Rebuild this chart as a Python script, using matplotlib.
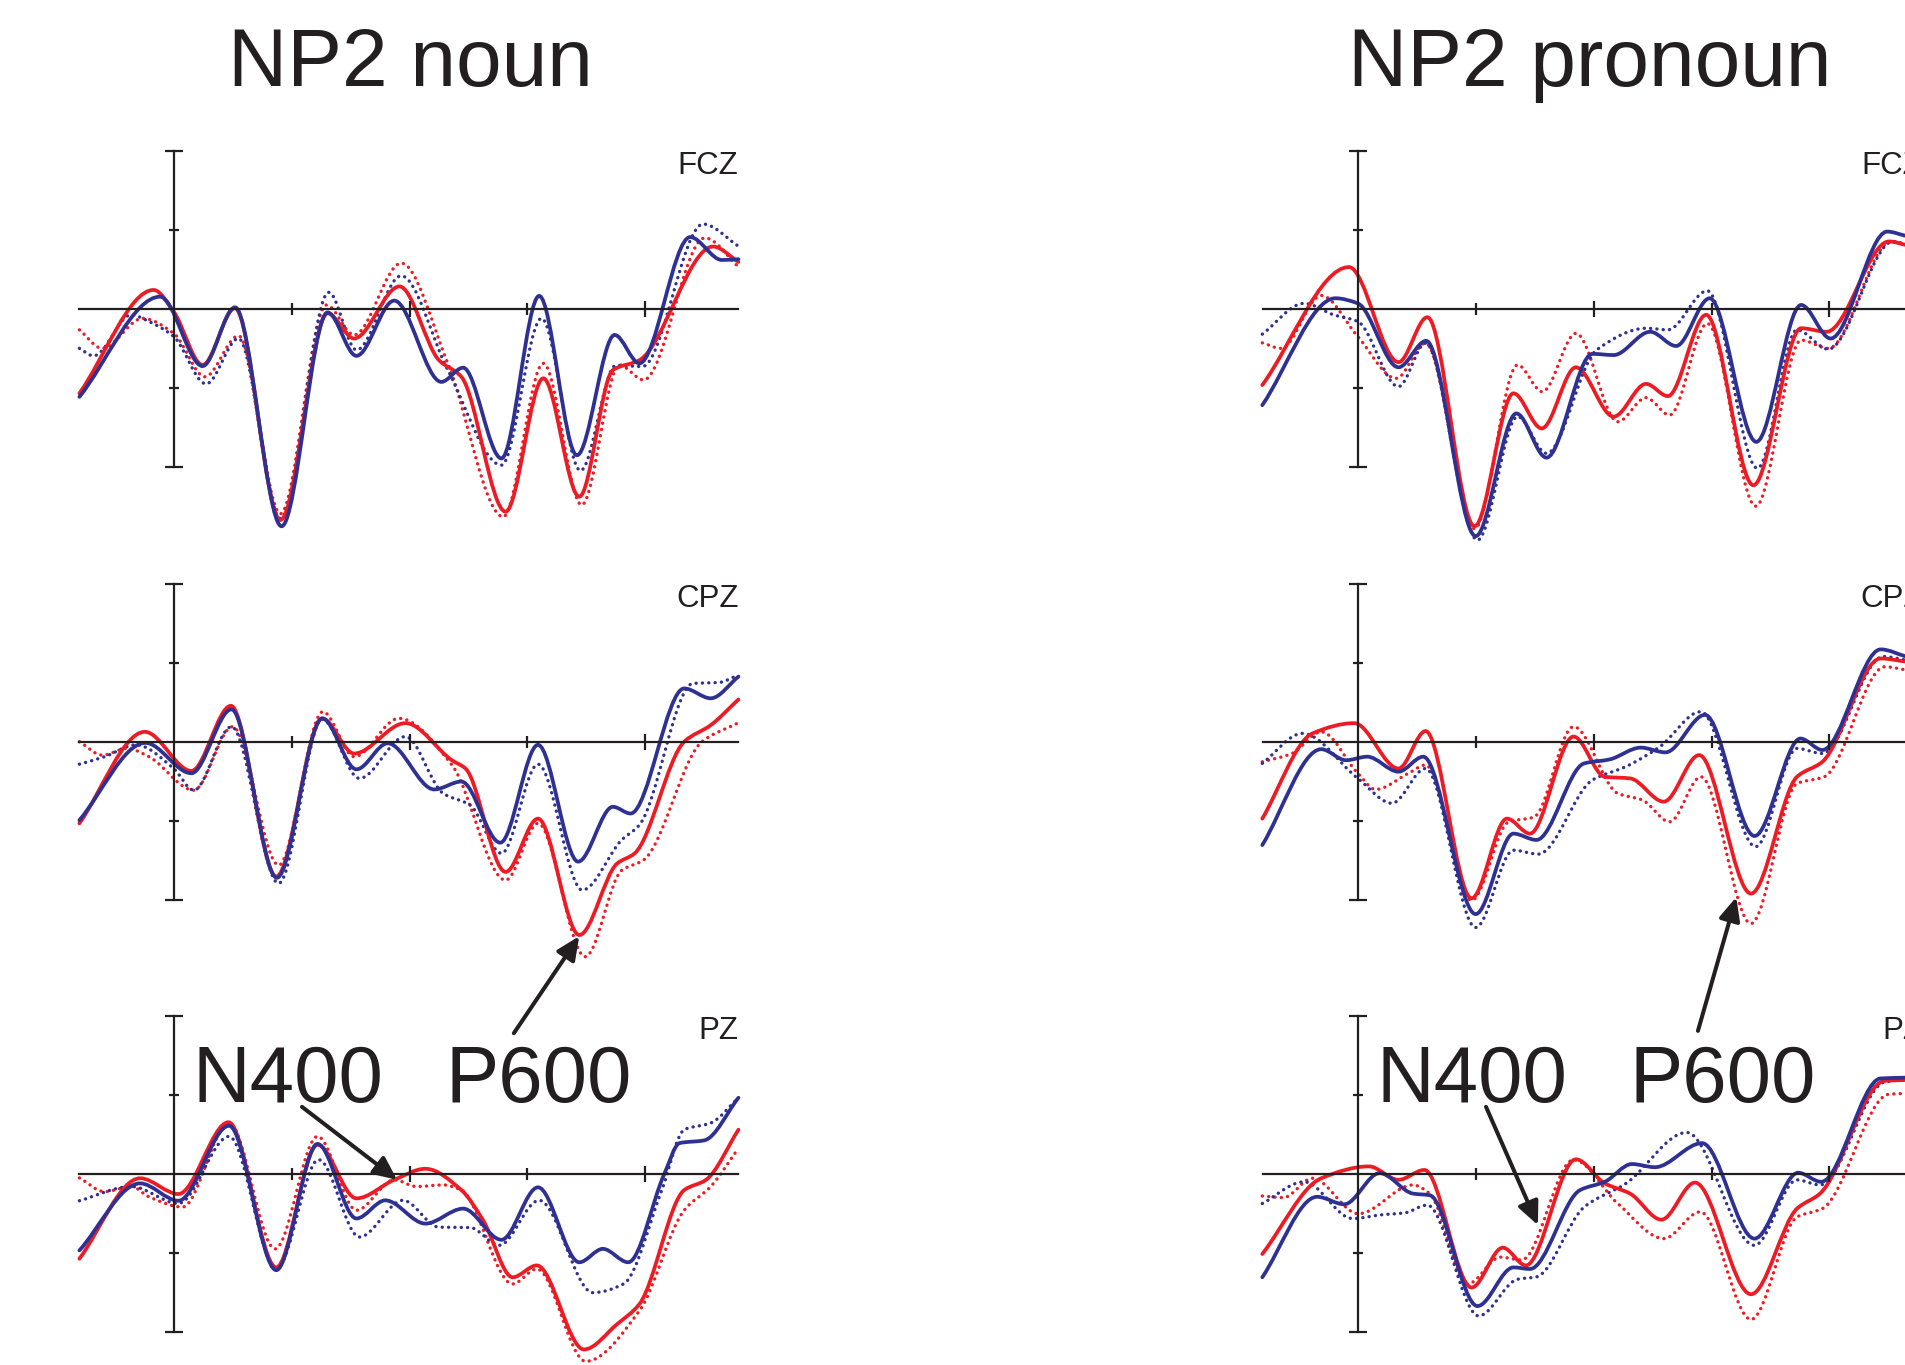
import numpy as np
import matplotlib
matplotlib.use("Agg")
import matplotlib.pyplot as plt
from matplotlib.path import Path
from matplotlib.patches import PathPatch

RED = "#ed1c24"
BLUE = "#2e3192"
INK = "#231f20"

# time in ms, amplitude in microvolts
EPOCH = (-160, 958)
titles = ["NP2 noun", "NP2 pronoun"]
channels = ["FCZ", "CPZ", "PZ"]

# ---- FCZ, noun ----
fcz_noun_red = [(-160, -2.13), (-34, 0.49), (0, -0.06), (49, -1.41), (104, 0.03), (181, -5.34),
                (261, -0.10), (306, -0.74), (383, 0.58), (450, -1.29), (488, -1.71), (563, -5.13),
                (627, -1.75), (688, -4.75), (745, -1.54), (790, -1.29), (915, 1.59), (958, 1.20)]
fcz_noun_blue = [(-160, -2.22), (-23, 0.32), (49, -1.44), (104, 0.05), (183, -5.50), (261, -0.08),
                 (310, -1.18), (374, 0.22), (454, -1.84), (491, -1.48), (556, -3.78), (620, 0.34),
                 (684, -3.70), (748, -0.65), (790, -1.37), (876, 1.83), (930, 1.25), (958, 1.27)]
fcz_noun_red_dot = [(-160, -0.52), (-121, -0.99), (-53, -0.23), (0, -0.61), (53, -1.71), (110, -0.67),
                    (181, -5.18), (259, 0.11), (306, -0.65), (386, 1.17), (465, -1.37), (559, -5.26),
                    (627, -1.37), (692, -4.96), (756, -1.41), (797, -1.79), (901, 1.81), (958, 1.08)]
fcz_noun_blue_dot = [(-160, -0.99), (-136, -1.18), (-72, -0.14), (-42, -0.31), (0, -0.69), (55, -1.89),
                     (110, -0.74), (181, -5.30), (263, 0.43), (310, -1.03), (386, 0.85), (465, -1.54),
                     (556, -3.95), (624, -0.23), (690, -4.09), (750, -1.42), (795, -1.45), (898, 2.16),
                     (958, 1.60)]

# ---- FCZ, pronoun ----
fcz_pron_red = [(-162, -1.92), (-15, 1.07), (69, -1.34), (118, -0.20), (198, -5.50), (264, -2.13),
                (312, -3.02), (370, -1.47), (434, -2.72), (489, -1.89), (526, -2.20), (591, -0.14),
                (671, -4.46), (752, -0.48), (795, -0.57), (901, 1.72), (930, 1.63)]
fcz_pron_blue = [(-162, -2.43), (-38, 0.28), (0, 0.15), (69, -1.47), (116, -0.80), (200, -5.75),
                 (269, -2.64), (320, -3.76), (398, -1.13), (434, -1.16), (496, -0.57), (540, -0.93),
                 (597, 0.28), (676, -3.36), (752, 0.11), (802, -0.74), (898, 1.97), (930, 1.86)]
fcz_pron_red_dot = [(-162, -0.85), (-130, -0.99), (-62, 0.35), (0, -0.69), (65, -1.75), (115, -0.86),
                    (198, -5.56), (271, -1.41), (313, -2.09), (370, -0.61), (441, -2.85), (489, -2.24),
                    (529, -2.68), (593, -0.36), (675, -4.99), (752, -0.78), (798, -0.99), (905, 1.72),
                    (930, 1.63)]
fcz_pron_blue_dot = [(-162, -0.63), (-91, 0.15), (-41, -0.14), (0, -0.31), (69, -1.96), (115, -0.86),
                     (203, -5.85), (271, -2.72), (320, -3.65), (405, -1.03), (490, -0.48), (526, -0.52),
                     (593, 0.47), (678, -4.03), (745, -0.52), (798, -1.01), (908, 1.72), (930, 1.65)]

# ---- CPZ, noun ----
cpz_noun_red = [(-160, -2.07), (-49, 0.25), (30, -0.74), (97, 0.91), (174, -3.42), (252, 0.59),
                (306, -0.30), (393, 0.47), (472, -0.47), (495, -0.68), (563, -3.30), (618, -1.95),
                (688, -4.90), (752, -3.09), (782, -2.83), (866, 0.0), (911, 0.42), (958, 1.07)]
cpz_noun_blue = [(-160, -1.99), (-48, -0.03), (30, -0.80), (98, 0.82), (175, -3.45), (252, 0.59),
                 (310, -0.70), (363, -0.04), (442, -1.21), (488, -1.01), (554, -2.56), (618, -0.08),
                 (686, -3.04), (745, -1.65), (775, -1.82), (866, 1.35), (911, 1.10), (958, 1.65)]
cpz_noun_red_dot = [(-160, 0.0), (-121, -0.34), (-79, -0.17), (-42, -0.38), (34, -1.23), (100, 0.38),
                    (178, -3.13), (253, 0.76), (306, -0.38), (382, 0.59), (472, -0.59), (563, -3.51),
                    (618, -2.07), (698, -5.45), (760, -3.26), (797, -3.00), (896, 0.0), (958, 0.48)]
cpz_noun_blue_dot = [(-160, -0.57), (-117, -0.38), (-64, -0.08), (0, -0.68), (34, -1.23), (98, 0.38),
                     (178, -3.59), (252, 0.57), (315, -0.93), (393, 0.13), (457, -1.31), (503, -1.61),
                     (556, -2.83), (618, -0.57), (693, -3.76), (760, -2.49), (790, -2.11), (881, 1.48),
                     (924, 1.50), (958, 1.69)]

# ---- CPZ, pronoun ----
cpz_pron_red = [(-162, -1.95), (-77, 0.21), (-6, 0.47), (69, -0.68), (115, 0.27), (193, -3.97),
                (253, -1.95), (292, -2.33), (366, 0.13), (419, -0.89), (462, -0.93), (519, -1.52),
                (579, -0.34), (667, -3.85), (745, -0.89), (788, -0.51), (887, 2.11), (930, 2.03)]
cpz_pron_blue = [(-162, -2.62), (-62, -0.19), (-20, -0.47), (16, -0.38), (69, -0.76), (111, -0.38),
                 (200, -4.37), (264, -2.33), (303, -2.49), (384, -0.55), (427, -0.45), (480, -0.15),
                 (522, -0.27), (589, 0.68), (673, -2.39), (751, 0.08), (788, -0.21), (887, 2.34),
                 (930, 2.16)]
cpz_pron_red_dot = [(-162, -0.51), (-112, -0.30), (-62, 0.25), (0, -0.80), (30, -1.21), (86, -0.80),
                    (115, -0.59), (193, -4.02), (256, -2.03), (299, -1.91), (366, 0.38), (441, -1.31),
                    (483, -1.48), (529, -2.03), (582, -0.89), (667, -4.61), (745, -1.06), (791, -0.89),
                    (894, 1.90), (930, 1.82)]
cpz_pron_blue_dot = [(-162, -0.55), (-94, 0.21), (0, -0.93), (58, -1.56), (115, -0.68), (200, -4.71),
                     (264, -2.75), (306, -2.85), (398, -0.97), (455, -0.63), (512, -0.13), (582, 0.76),
                     (675, -2.66), (745, -0.17), (788, -0.30), (891, 2.16), (930, 2.07)]

# ---- PZ, noun ----
pz_noun_red = [(-160, -2.14), (-57, -0.10), (8, -0.50), (93, 1.32), (174, -2.36), (244, 0.75),
               (310, -0.61), (374, -0.14), (427, 0.14), (488, -0.40), (525, -1.17), (575, -2.61),
               (616, -2.31), (696, -4.44), (752, -3.80), (790, -3.29), (866, -0.40), (903, -0.14),
               (958, 1.13)]
pz_noun_blue = [(-160, -1.93), (-57, -0.23), (8, -0.67), (94, 1.23), (174, -2.43), (244, 0.77),
                (310, -1.12), (359, -0.66), (427, -1.25), (491, -0.87), (556, -1.66), (618, -0.33),
                (688, -2.23), (728, -1.89), (771, -2.23), (832, 0.0), (858, 0.79), (900, 0.86),
                (958, 1.94)]
pz_noun_red_dot = [(-160, -0.09), (-117, -0.44), (-72, -0.31), (-42, -0.57), (15, -0.83), (94, 1.30),
                   (172, -1.89), (244, 0.96), (310, -0.91), (374, -0.14), (412, -0.31), (457, -0.27),
                   (488, -0.40), (575, -2.78), (616, -2.40), (699, -4.74), (790, -3.46), (866, -0.91),
                   (911, -0.31), (958, 0.66)]
pz_noun_blue_dot = [(-160, -0.67), (-72, -0.31), (8, -0.74), (94, 0.96), (174, -2.40), (246, 0.37),
                    (315, -1.59), (389, -0.66), (450, -1.34), (503, -1.35), (552, -1.80), (620, -0.66),
                    (711, -3.00), (763, -2.78), (828, -0.40), (866, 1.13), (911, 1.30), (958, 1.94)]

# ---- PZ, pronoun ----
pz_pron_red = [(-162, -2.02), (-62, -0.10), (19, 0.20), (69, -0.14), (113, 0.11), (193, -2.87),
               (246, -1.86), (285, -2.31), (370, 0.38), (419, -0.23), (462, -0.49), (515, -1.15),
               (572, -0.21), (667, -3.04), (745, -0.87), (784, -0.49), (894, 2.37), (930, 2.39)]
pz_pron_blue = [(-162, -2.61), (-69, -0.57), (-23, -0.76), (37, 0.03), (94, -0.49), (122, -0.53),
                (203, -3.34), (264, -2.36), (292, -2.40), (377, -0.40), (419, -0.19), (465, 0.26),
                (504, 0.18), (584, 0.79), (673, -1.63), (747, 0.04), (786, -0.19), (887, 2.43),
                (930, 2.45)]
pz_pron_red_dot = [(-162, -0.55), (-126, -0.59), (-77, -0.10), (1, -1.00), (94, -0.27), (122, -0.49),
                   (186, -2.78), (242, -2.10), (278, -2.17), (366, 0.37), (441, -0.74), (519, -1.63),
                   (581, -0.95), (667, -3.68), (745, -1.08), (788, -0.87), (901, 2.03), (930, 2.05)]
pz_pron_blue_dot = [(-162, -0.74), (-91, -0.19), (-9, -1.12), (44, -1.02), (79, -0.98), (118, -0.78),
                    (205, -3.59), (271, -2.66), (303, -2.60), (384, -0.83), (455, -0.23), (558, 1.06),
                    (673, -1.80), (745, -0.14), (784, -0.27), (894, 2.34), (930, 2.40)]

# arrows: (tail, head) in data coords of the panel they belong to
p600_arrows = [((577, -7.39), (688, -4.93)), ((577, -7.33), (642, -3.94))]   # CPZ row
n400_arrows = [((217.6, 1.71), (379, -0.14)), ((217.5, 1.71), (305.6, -1.29))]  # PZ row

panels = [
    [(fcz_noun_red_dot, fcz_noun_blue_dot, fcz_noun_red, fcz_noun_blue),
     (fcz_pron_red_dot, fcz_pron_blue_dot, fcz_pron_red, fcz_pron_blue)],
    [(cpz_noun_red_dot, cpz_noun_blue_dot, cpz_noun_red, cpz_noun_blue),
     (cpz_pron_red_dot, cpz_pron_blue_dot, cpz_pron_red, cpz_pron_blue)],
    [(pz_noun_red_dot, pz_noun_blue_dot, pz_noun_red, pz_noun_blue),
     (pz_pron_red_dot, pz_pron_blue_dot, pz_pron_red, pz_pron_blue)],
]


def wave_path(points):
    # smooth curve through the read points (monotone cubic, as bezier segments)
    t = np.array([p[0] for p in points], float)
    v = np.array([p[1] for p in points], float)
    h = np.diff(t)
    d = np.diff(v) / h
    m = np.zeros_like(v)
    m[0], m[-1] = d[0], d[-1]
    for k in range(1, len(v) - 1):
        if d[k - 1] * d[k] > 0:
            w1 = 2 * h[k] + h[k - 1]
            w2 = h[k] + 2 * h[k - 1]
            m[k] = (w1 + w2) / (w1 / d[k - 1] + w2 / d[k])
    verts = [(t[0], v[0])]
    codes = [Path.MOVETO]
    for k in range(len(h)):
        verts += [(t[k] + h[k] / 3, v[k] + m[k] * h[k] / 3),
                  (t[k + 1] - h[k] / 3, v[k + 1] - m[k + 1] * h[k] / 3),
                  (t[k + 1], v[k + 1])]
        codes += [Path.CURVE4] * 3
    return Path(verts, codes)


plt.rcParams["font.family"] = ["Liberation Sans", "DejaVu Sans"]

W, H = 1905, 1365
fig = plt.figure(figsize=(W / 100, H / 100), dpi=100)

# layout in pixels, measured on the reference
PX_MS = 0.5895
PX_UV = 39.45
col_axis_px = [173.7, 1357.8]
row_zero_px = [309.3, 741.7, 1174.3]
XLIM = (-200, 1000)
YLIM = (-6.5, 4.5)
title_x = [401, 394]

styles = [
    dict(edgecolor=RED, lw=2.4, linestyle=(0, (0.05, 1.85)), capstyle="round"),
    dict(edgecolor=BLUE, lw=2.4, linestyle=(0, (0.05, 1.85)), capstyle="round"),
    dict(edgecolor=RED, lw=2.7, capstyle="round", joinstyle="round"),
    dict(edgecolor=BLUE, lw=2.7, capstyle="round", joinstyle="round"),
]
arrow_kw = dict(arrowstyle="-|>,head_length=0.7,head_width=0.32", mutation_scale=20,
                color=INK, lw=2.9, shrinkA=0, shrinkB=0)

for r in range(3):
    for c in range(2):
        w = (XLIM[1] - XLIM[0]) * PX_MS
        h = (YLIM[1] - YLIM[0]) * PX_UV
        left = col_axis_px[c] + XLIM[0] * PX_MS
        top = row_zero_px[r] - YLIM[1] * PX_UV
        ax = fig.add_axes([left / W, 1 - (top + h) / H, w / W, h / H])
        ax.set_xlim(*XLIM)
        ax.set_ylim(*YLIM)
        ax.patch.set_visible(False)

        for s in ["top", "right"]:
            ax.spines[s].set_visible(False)
        ax.spines["left"].set_position(("data", 0))
        ax.spines["left"].set_bounds(-4, 4)
        ax.spines["bottom"].set_position(("data", 0))
        ax.spines["bottom"].set_bounds(*EPOCH)
        for s in ["left", "bottom"]:
            ax.spines[s].set_color(INK)
            ax.spines[s].set_linewidth(1.6)

        ax.set_xticks([400, 800])
        ax.set_xticks([200, 600], minor=True)
        ax.set_yticks([-4, 4])
        ax.set_yticks([-2, 2], minor=True)
        ax.tick_params(which="both", direction="inout", width=1.6, color=INK,
                       labelbottom=False, labelleft=False)
        ax.tick_params(axis="x", which="major", length=12)
        ax.tick_params(axis="x", which="minor", length=8)
        ax.tick_params(axis="y", which="major", length=13)
        ax.tick_params(axis="y", which="minor", length=7)

        for wave, st in zip(panels[r][c], styles):
            ax.add_patch(PathPatch(wave_path(wave), fill=False, **st))

        # channel name sits at the end of the epoch (cut by the page edge on the right, as in the original)
        ax.text(EPOCH[1], 3.42, channels[r], ha="right", va="baseline",
                fontsize=22.5, color=INK)

        if r == 0:
            ax.text(title_x[c], 5.66, titles[c], ha="center", va="baseline",
                    fontsize=59, color=INK, clip_on=False)
        if r == 1:
            tail, head = p600_arrows[c]
            ax.annotate("", xy=head, xytext=tail, arrowprops=arrow_kw,
                        annotation_clip=False, zorder=6)
        if r == 2:
            ax.text(32, 1.83, "N400", ha="left", va="baseline", fontsize=57.5, color=INK)
            ax.text(461, 1.83, "P600", ha="left", va="baseline", fontsize=57.5, color=INK)
            tail, head = n400_arrows[c]
            ax.annotate("", xy=head, xytext=tail, arrowprops=arrow_kw,
                        annotation_clip=False, zorder=6)

fig.savefig("out.png", dpi=100)
